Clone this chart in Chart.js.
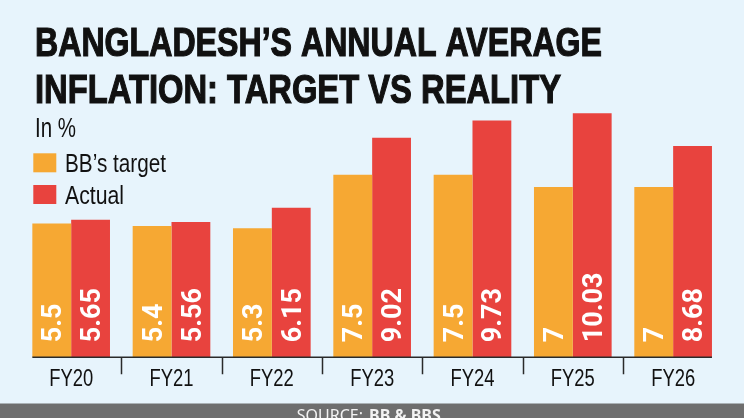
<!DOCTYPE html>
<html>
<head>
<meta charset="utf-8">
<script src="https://cdn.jsdelivr.net/npm/chart.js@4"></script>
<style>
    html, body { margin: 0; padding: 0; background: #e7f4fc; }
    #wrap { position: relative; width: 744px; height: 418px; }
</style>
</head>
<body>
<div id="wrap"><canvas id="inflationChart"></canvas></div>
<script>
const categories = ["FY20", "FY21", "FY22", "FY23", "FY24", "FY25", "FY26"];
const targetValues = [5.5, 5.4, 5.3, 7.5, 7.5, 7, 7];
const actualValues = [5.65, 5.56, 6.15, 9.02, 9.73, 10.03, 8.68];
const seriesNames = ["BB\u2019s target", "Actual"];
const titleLines = ["BANGLADESH\u2019S ANNUAL AVERAGE", "INFLATION: TARGET VS REALITY"];
const unitText = "In %";
const sourceLabel = "SOURCE: ";
const sourceName = "BB & BBS";

const colors = ["#f6a833", "#e8433e"];
const narrow = '"Liberation Sans Narrow", "Arial Narrow", "Liberation Sans", sans-serif';

// squeeze condensed-looking text to the widths in the picture
function squeezed(ctx, text, x, y, width) {
    const w = ctx.measureText(text).width;
    ctx.fillText(text, x, y, Math.min(w, width));
}

const decorations = {
    id: "decorations",
    beforeDraw(chart) {
        const ctx = chart.ctx;
        ctx.save();
        ctx.fillStyle = "#e7f4fc";
        ctx.fillRect(0, 0, chart.width, chart.height);
        ctx.restore();
    },
    afterDatasetsDraw(chart) {
        const ctx = chart.ctx;
        ctx.save();
        ctx.font = "bold 27px Roboto, sans-serif";
        ctx.fillStyle = "#ffffff";
        ctx.textAlign = "left";
        ctx.textBaseline = "alphabetic";
        chart.data.datasets.forEach((ds, d) => {
            chart.getDatasetMeta(d).data.forEach((bar, i) => {
                ctx.save();
                ctx.translate(bar.x, bar.base - 15);
                ctx.rotate(-Math.PI / 2);
                ctx.fillText(String(ds.data[i]), 0, 9.6);
                ctx.restore();
            });
        });
        ctx.restore();
    },
    afterDraw(chart) {
        const ctx = chart.ctx;
        const x = chart.scales.x;
        const y0 = chart.scales.y.getPixelForValue(0);
        const m0 = chart.getDatasetMeta(0).data;
        const m1 = chart.getDatasetMeta(1).data;
        ctx.save();

        // title
        ctx.fillStyle = "#111111";
        ctx.strokeStyle = "#111111";
        ctx.lineWidth = 1.2;
        ctx.font = "bold 41px " + narrow;
        ctx.textAlign = "left";
        ctx.textBaseline = "alphabetic";
        ctx.fillText(titleLines[0], 35, 55.7, 567);
        ctx.strokeText(titleLines[0], 35, 55.7, 567);
        ctx.fillText(titleLines[1], 35, 103.3, 526);
        ctx.strokeText(titleLines[1], 35, 103.3, 526);

        // unit + legend
        ctx.font = "27px " + narrow;
        squeezed(ctx, unitText, 35, 136.7, 41);
        const legendY = [153.3, 185];
        const legendW = [101, 59];
        chart.data.datasets.forEach((ds, d) => {
            ctx.fillStyle = ds.backgroundColor;
            ctx.fillRect(33.3, legendY[d], 23, 19);
            ctx.fillStyle = "#111111";
            ctx.font = "25px " + narrow;
            squeezed(ctx, ds.label, 65, legendY[d] + 18.5, legendW[d]);
        });

        // axis line and separators
        const left = m0[0].x - m0[0].width / 2;
        const last = m1[m1.length - 1];
        const right = last.x + last.width / 2;
        ctx.strokeStyle = "#2a2a2a";
        ctx.lineWidth = 1.5;
        ctx.beginPath();
        ctx.moveTo(left, y0);
        ctx.lineTo(right, y0);
        ctx.stroke();
        ctx.beginPath();
        for (let i = 0; i < categories.length - 1; i++) {
            const sx = Math.round((x.getPixelForValue(i) + x.getPixelForValue(i + 1)) / 2) + 0.5;
            ctx.moveTo(sx, y0);
            ctx.lineTo(sx, y0 + 17);
        }
        ctx.stroke();

        // category labels
        ctx.fillStyle = "#111111";
        ctx.font = "24px " + narrow;
        ctx.textAlign = "center";
        categories.forEach((c, i) => {
            squeezed(ctx, c, x.getPixelForValue(i), 386, 44);
        });

        // source band
        ctx.fillStyle = "#6e6e6e";
        ctx.fillRect(0, 403.5, chart.width, chart.height - 403.5);
        ctx.textAlign = "left";
        ctx.fillStyle = "#f2f2f2";
        ctx.font = "16px 'Noto Sans', sans-serif";
        ctx.fillText(sourceLabel, 296.7, 421);
        const w = ctx.measureText(sourceLabel).width;
        ctx.font = "bold 16px 'Noto Sans', sans-serif";
        ctx.fillText(sourceName, 296.7 + w + 2, 421);

        ctx.restore();
    }
};

new Chart(document.getElementById("inflationChart").getContext("2d"), {
    type: "bar",
    data: {
        labels: categories,
        datasets: [
            { label: seriesNames[0], data: targetValues, backgroundColor: colors[0] },
            { label: seriesNames[1], data: actualValues, backgroundColor: colors[1] }
        ]
    },
    options: {
        responsive: true,
        maintainAspectRatio: false,
        animation: false,
        categoryPercentage: 0.774,
        barPercentage: 1,
        borderWidth: 0,
        layout: { padding: { left: 21, right: 20.7, top: 65.3, bottom: 60.7 } },
        plugins: {
            legend: { display: false },
            tooltip: { enabled: false }
        },
        scales: {
            x: { display: false },
            y: { display: false, min: 0, max: 12 }
        }
    },
    plugins: [decorations]
});
</script>
</body>
</html>
